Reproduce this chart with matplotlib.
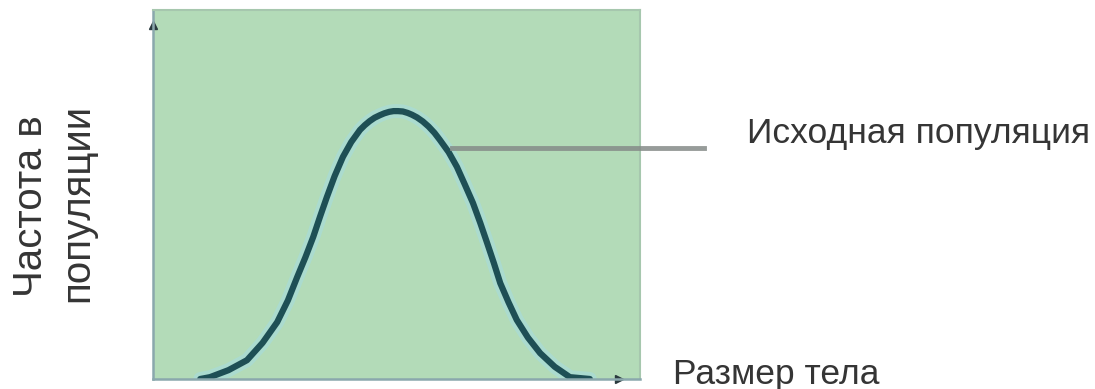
import matplotlib
matplotlib.use("Agg")
import matplotlib.pyplot as plt

# Curve (x: body size 0..100, y: frequency 0..100)
size_x = [9.7, 11.7, 15.5, 19.3, 22.5, 25.5, 27.7, 29.6, 31.3, 32.9, 34.3, 35.7,
          37.3, 39.0, 40.7, 42.5, 43.5, 44.5, 45.5, 46.6, 47.5, 48.5, 49.4, 50.3,
          51.3, 52.3, 53.2, 54.2, 55.4, 56.6, 57.8, 58.9,
          60.7, 62.4, 64.0, 65.7, 67.2, 68.6, 70.0, 71.3, 73.0, 74.7, 77.0, 79.5,
          82.5, 85.6, 89.7]
freq_y = [0.0, 0.5, 2.4, 5.1, 9.8, 15.4, 21.3, 27.6, 33.0, 38.5, 44.0, 49.3,
          55.0, 60.2, 64.2, 67.5, 68.8, 69.9, 70.8, 71.5, 72.0, 72.4, 72.6, 72.6,
          72.5, 72.1, 71.6, 70.9, 69.8, 68.4, 66.7, 64.8,
          61.5, 57.5, 52.8, 47.7, 42.3, 36.9, 31.4, 26.0, 20.8, 16.0, 11.2, 7.0,
          3.3, 0.5, 0.0]

ylabel_lines = ["Частота в", "популяции"]
xlabel = "Размер тела"
curve_label = "Исходная популяция"

W, H = 1095, 389
fig = plt.figure(figsize=(W / 100, H / 100), dpi=100)
fig.patch.set_facecolor("white")

ax_l, ax_r, ax_t, ax_b = 153, 640, 10, 379
ax = fig.add_axes([ax_l / W, (H - ax_b) / H, (ax_r - ax_l) / W, (ax_b - ax_t) / H])
ax.set_facecolor("#b3dbb8")
ax.set_xlim(0, 100)
ax.set_ylim(0, 100)
ax.set_xticks([])
ax.set_yticks([])
for s in ["top", "right"]:
    ax.spines[s].set_color("#a6c7ae")
    ax.spines[s].set_linewidth(1.5)
for s in ["left", "bottom"]:
    ax.spines[s].set_color("#8aa8ad")
    ax.spines[s].set_linewidth(1.8)

# halo + curve
ax.plot(size_x, freq_y, color="#a9dcd6", lw=10, alpha=0.8, solid_capstyle="round",
        solid_joinstyle="round")
ax.plot(size_x, freq_y, color="#1e4f55", lw=4.5, solid_capstyle="round",
        solid_joinstyle="round")

# axis arrowheads
ax.plot([0], [95.9], marker="^", color="#2a3a3e", markersize=6, clip_on=False)
ax.plot([95.7], [0], marker=">", color="#2a3a3e", markersize=6, clip_on=False)

def px2fig(x, y):
    return x / W, (H - y) / H

# pointer line from the curve to the label
x0, y0 = px2fig(452, 148)
x1, y1 = px2fig(704, 148)
fig.add_artist(plt.Line2D([x0, x1], [y0, y1], color="#858b88", lw=3.5, alpha=0.85))

fam = ["Liberation Sans", "DejaVu Sans"]
tcol = "#353535"
tx, ty = px2fig(747, 143)
fig.text(tx, ty, curve_label, fontsize=25.5, color=tcol, va="baseline", ha="left",
         family=fam)

tx, ty = px2fig(673, 384)
fig.text(tx, ty, xlabel, fontsize=25.5, color=tcol, va="baseline", ha="left",
         family=fam)

tx, ty = px2fig(31, 206)
fig.text(tx, ty, ylabel_lines[0], fontsize=29, color=tcol, va="center", ha="center",
         rotation=90, family=fam)
tx, ty = px2fig(77, 203)
fig.text(tx, ty, ylabel_lines[1], fontsize=29, color=tcol, va="center", ha="center",
         rotation=90, family=fam)

fig.savefig("out.png", dpi=100)
